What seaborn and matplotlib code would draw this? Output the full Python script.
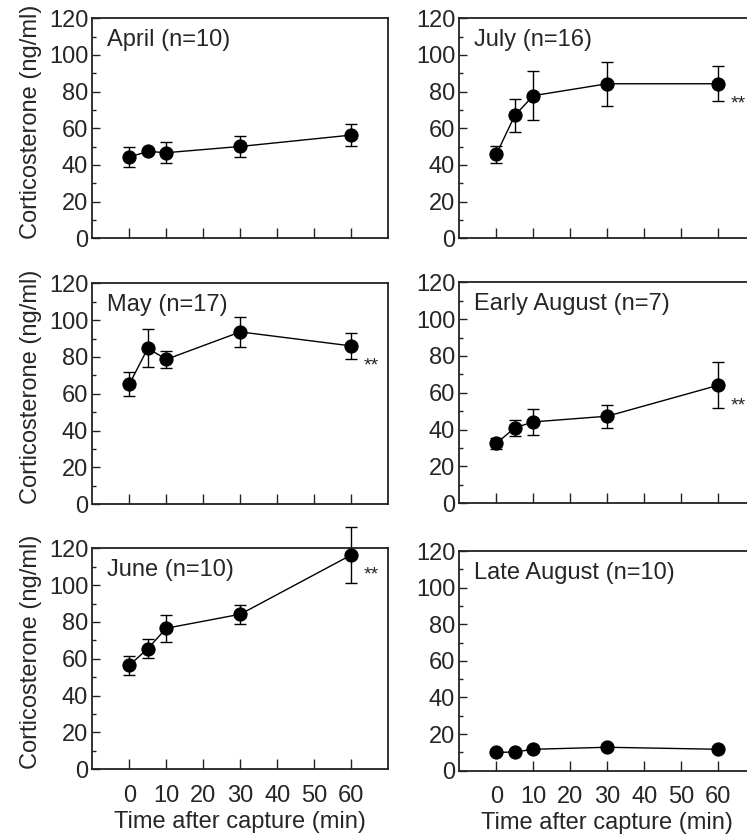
import numpy as np
import pandas as pd
import matplotlib
matplotlib.use("Agg")
import matplotlib.pyplot as plt
import seaborn as sns
from matplotlib.ticker import MultipleLocator

sns.set_theme(style="ticks")
plt.rcParams['font.family'] = ['Liberation Sans', 'DejaVu Sans']

times = [0, 5, 10, 30, 60]
panels = ["April (n=10)", "July (n=16)", "May (n=17)",
          "Early August (n=7)", "June (n=10)", "Late August (n=10)"]
april = [44.3, 47.4, 46.7, 50.1, 56.3]
april_err = [5.4, 1.0, 5.7, 5.8, 6.1]
july = [45.8, 67.0, 77.8, 84.3, 84.3]
july_err = [4.8, 8.8, 13.3, 12.0, 9.5]
may = [65.2, 84.7, 78.7, 93.6, 86.0]
may_err = [6.4, 10.3, 4.5, 8.1, 6.9]
early_aug = [32.5, 41.0, 44.2, 47.3, 64.1]
early_aug_err = [3.2, 4.3, 6.9, 6.2, 12.6]
june = [56.5, 65.5, 76.6, 84.2, 116.4]
june_err = [5.2, 5.2, 7.4, 5.1, 15.4]
late_aug = [10.0, 10.2, 11.7, 12.8, 11.7]
late_aug_err = [0.8, 0.8, 0.8, 0.8, 0.8]
significant = [False, True, True, True, True, False]

series = [(april, april_err), (july, july_err), (may, may_err),
          (early_aug, early_aug_err), (june, june_err), (late_aug, late_aug_err)]

W, H = 747, 840
fig = plt.figure(figsize=(W / 100, H / 100), dpi=100)

# pixel boxes: (left, top, right, bottom)
boxes = [
    (92.3, 18.3, 388.3, 238.3),
    (459.3, 18.3, 755.3, 238.3),
    (92.3, 283.3, 388.3, 504.3),
    (459.3, 282.3, 755.3, 503.3),
    (92.3, 548.3, 388.3, 769.3),
    (459.3, 551.0, 755.3, 770.7),
]

edge = "#222222"
FS = 17
for i, (title, (vals, errs)) in enumerate(zip(panels, series)):
    l, t, r, b = boxes[i]
    ax = fig.add_axes([l / W, 1 - b / H, (r - l) / W, (b - t) / H])
    df = pd.DataFrame({"time": times, "value": vals, "err": errs})
    ax.errorbar(df["time"], df["value"], yerr=df["err"], fmt="none",
                ecolor="black", elinewidth=1.0, capsize=4, capthick=1.0,
                clip_on=False, zorder=2)
    sns.lineplot(data=df, x="time", y="value", ax=ax, color="black",
                 linewidth=1.0, marker="o", markersize=9.5,
                 markeredgecolor="black", markerfacecolor="black",
                 zorder=3, clip_on=False)
    ax.set_xlim(-10, 70)
    ax.set_ylim(0, 120)
    ax.set_xticks([0, 10, 20, 30, 40, 50, 60])
    ax.yaxis.set_major_locator(MultipleLocator(20))
    ax.yaxis.set_minor_locator(MultipleLocator(10))
    ax.tick_params(axis="x", which="major", direction="in", length=7,
                   width=1.0, color=edge, labelsize=FS, pad=11)
    ax.tick_params(axis="y", which="major", direction="in", length=6,
                   width=1.0, color=edge, labelsize=FS, pad=3)
    ax.tick_params(axis="y", which="minor", direction="in", length=3,
                   width=1.0, color=edge)
    for sp in ax.spines.values():
        sp.set_visible(True)
        sp.set_color(edge)
        sp.set_linewidth(1.3)
    ax.text(0.05, 0.95, title, transform=ax.transAxes, ha="left", va="top",
            fontsize=FS)
    if significant[i]:
        ax.annotate("**", xy=(60, vals[-1]), xytext=(9, -18),
                    textcoords="offset points", fontsize=14,
                    ha="left", va="baseline", annotation_clip=False)
    if i % 2 == 0:
        ax.set_ylabel("Corticosterone (ng/ml)", fontsize=FS, labelpad=3)
        ax.yaxis.set_label_coords(-0.17, 0.53)
    else:
        ax.set_ylabel("")
    if i >= 4:
        ax.set_xlabel("Time after capture (min)", fontsize=FS, labelpad=3)
    else:
        ax.set_xlabel("")
        ax.set_xticklabels([])

fig.savefig("out.png", dpi=100)
